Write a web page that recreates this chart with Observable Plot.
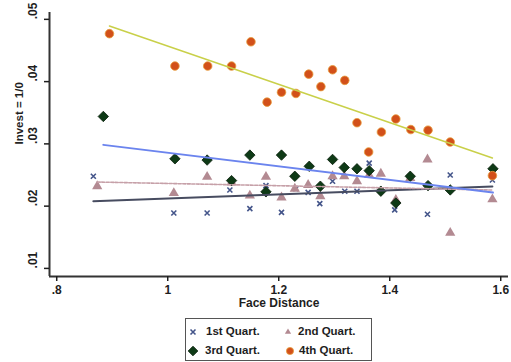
<!DOCTYPE html>
<html><head><meta charset="utf-8">
<script src="https://cdn.jsdelivr.net/npm/d3@7"></script>
<script src="https://cdn.jsdelivr.net/npm/@observablehq/plot@0.6"></script>
<style>
body{margin:0;background:#fff;font-family:"Liberation Sans",Arial,sans-serif;}
#legend{position:relative;margin-left:185px;margin-top:2px;width:187px;height:43px;border:1px solid #555;box-sizing:border-box;font-weight:bold;font-size:11.5px;color:#1e1e1e;}
.item{position:absolute;white-space:nowrap;line-height:1;transform:translateY(-50%);}
.mk{position:absolute;overflow:visible;}
</style></head><body>
<div id="chart"></div>
<div id="legend"></div>
<script>
// ---- data ----
const groups = ["1st Quart.", "2nd Quart.", "3rd Quart.", "4th Quart."];
const q1x = [0.866,1.011,1.071,1.112,1.148,1.177,1.205,1.231,1.253,1.274,1.297,1.319,1.341,1.363,1.384,1.409,1.437,1.468,1.509,1.585];
const q1y = [0.0248,0.0189,0.0189,0.0226,0.0196,0.0233,0.0190,0.0228,0.0222,0.0204,0.0240,0.0224,0.0224,0.0269,0.0225,0.0194,0.0246,0.0187,0.0250,0.0242];
const q2x = [0.873,1.011,1.071,1.115,1.148,1.177,1.205,1.229,1.253,1.275,1.297,1.318,1.341,1.363,1.384,1.411,1.437,1.468,1.509,1.585];
const q2y = [0.0232,0.0221,0.0247,0.0238,0.0217,0.0247,0.0214,0.0228,0.0234,0.0216,0.0248,0.0248,0.0240,0.0250,0.0252,0.0210,0.0245,0.0275,0.0157,0.0211];
const q3x = [0.884,1.013,1.071,1.115,1.148,1.177,1.205,1.229,1.255,1.275,1.297,1.318,1.341,1.363,1.384,1.411,1.437,1.469,1.509,1.586];
const q3y = [0.0344,0.0276,0.0274,0.0241,0.0282,0.0223,0.0282,0.0248,0.0264,0.0232,0.0275,0.0262,0.0260,0.0257,0.0224,0.0205,0.0248,0.0233,0.0226,0.0260];
const q4x = [0.895,1.013,1.072,1.115,1.150,1.179,1.205,1.231,1.254,1.276,1.297,1.319,1.341,1.362,1.385,1.411,1.438,1.469,1.509,1.585];
const q4y = [0.0477,0.0425,0.0425,0.0425,0.0464,0.0367,0.0383,0.0381,0.0412,0.0392,0.0419,0.0402,0.0334,0.0287,0.0319,0.0340,0.0323,0.0322,0.0303,0.0249];
const xTicks = [0.8, 1, 1.2, 1.4, 1.6];
const yTicks = [0.01, 0.02, 0.03, 0.04, 0.05];
const xDomain = [0.787, 1.614];
const yDomain = [0.0087, 0.0511];
const xLabel = "Face Distance";
const yLabel = "Invest = 1/0";

// ---- build table ----
const series = [[q1x, q1y], [q2x, q2y], [q3x, q3y], [q4x, q4y]];
const rows = series.map(([xs, ys], i) => xs.map((x, j) => ({g: groups[i], x, y: ys[j]})));

const styles = [
  {symbol: "times", r: 2.4, stroke: "#44558a", strokeWidth: 1.6, fill: "none"},
  {symbol: "triangle", r: 3.8, fill: "#b38a92", stroke: "none"},
  {symbol: "diamond2", r: 4.7, fill: "#0e3a16", stroke: "#0a200c", strokeWidth: 0.8},
  {symbol: "circle", r: 4.3, fill: "#d2501a", stroke: "#e79c3c", strokeWidth: 0.8}
];
const fits = [
  {stroke: "#474c60", strokeWidth: 2},
  {stroke: "#c6a0a8", strokeWidth: 1.6, strokeDasharray: "3,1.5"},
  {stroke: "#6b84ee", strokeWidth: 2},
  {stroke: "#c9d049", strokeWidth: 1.5}
];

const fmtX = d => String(d).replace(/^0\./, ".");
const fmtY = d => d3.format(".2f")(d).replace(/^0\./, ".");
const bold = {fontWeight: "bold"};

const chart = Plot.plot({
  width: 511, height: 316,
  marginLeft: 49, marginRight: 3, marginTop: 12, marginBottom: 40,
  x: {domain: xDomain},
  y: {domain: yDomain},
  style: {fontFamily: "Liberation Sans, Arial, sans-serif", fontSize: "12px", color: "#1e1e1e", background: "#fff"},
  marks: [
    ...rows.map((r, i) => Plot.dot(r, {x: "x", y: "y", ...styles[i]})),
    ...rows.map((r, i) => Plot.linearRegressionY(r, {x: "x", y: "y", ci: 0, ...fits[i]})),
    Plot.ruleX([xDomain[0]], {stroke: "#333", strokeWidth: 2}),
    Plot.ruleY([yDomain[0]], {stroke: "#333", strokeWidth: 2}),
    Plot.axisX({ticks: xTicks, tickSize: 5, tickPadding: 4, tickFormat: fmtX, label: null, strokeWidth: 1.5, ...bold}),
    Plot.axisY({ticks: yTicks, tickSize: 5, tickFormat: () => "", label: null, strokeWidth: 1.5}),
    Plot.text(yTicks, {y: d => d, text: fmtY, frameAnchor: "left", dx: -16, rotate: -90, ...bold}),
    Plot.text([xLabel], {text: d => d, frameAnchor: "bottom", dy: 30, ...bold}),
    Plot.text([yLabel], {text: d => d, frameAnchor: "left", dx: -30, rotate: -90, fontSize: 11.5, ...bold})
  ]
});
document.getElementById("chart").appendChild(chart);

// ---- legend ----
const legend = d3.select("#legend");
const pos = [[7, 13, 20], [102, 13, 112], [7, 32, 19], [104, 32, 113]];
const legSize = [18, 28, 60, 40];
groups.forEach((g, i) => {
  const [mx, my, tx] = pos[i];
  const s = styles[i];
  const sym = {times: d3.symbolTimes, triangle: d3.symbolTriangle2, diamond2: d3.symbolDiamond2, circle: d3.symbolCircle}[s.symbol];
  const svg = legend.append("svg").attr("class", "mk").attr("width", 1).attr("height", 1)
    .style("left", mx + "px").style("top", my + "px");
  svg.append("path").attr("d", d3.symbol(sym, legSize[i])())
    .attr("fill", s.fill).attr("stroke", s.stroke).attr("stroke-width", s.strokeWidth || 0);
  legend.append("div").attr("class", "item").style("left", tx + "px").style("top", my + "px").text(g);
});
</script>
</body></html>
